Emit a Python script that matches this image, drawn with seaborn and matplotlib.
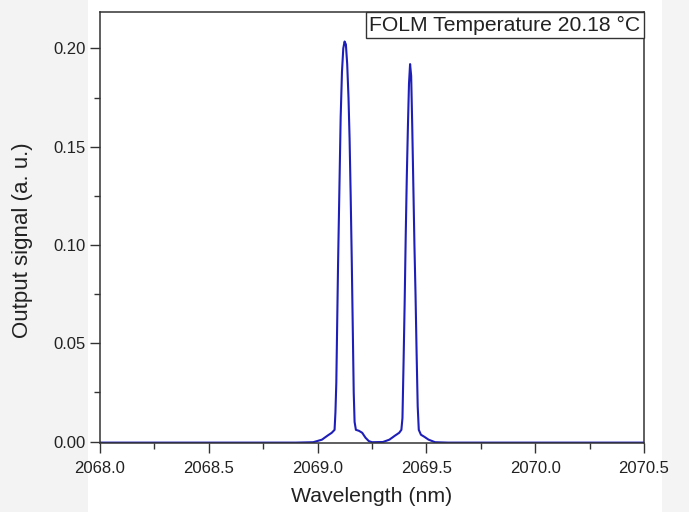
import matplotlib
matplotlib.use("Agg")
import matplotlib.pyplot as plt
import seaborn as sns
import pandas as pd
from matplotlib.patches import Rectangle
from matplotlib.ticker import MultipleLocator, FormatStrFormatter

# ========= DATA =========
wavelength = [2068.0, 2068.5, 2068.9, 2068.98, 2069.02, 2069.045, 2069.065, 2069.078,
              2069.082, 2069.086, 2069.090, 2069.094, 2069.098, 2069.102, 2069.106,
              2069.112, 2069.118, 2069.124, 2069.130, 2069.136, 2069.142, 2069.147,
              2069.152, 2069.157, 2069.162, 2069.166, 2069.170, 2069.176, 2069.19,
              2069.205, 2069.22, 2069.235, 2069.25, 2069.30, 2069.33, 2069.355,
              2069.375, 2069.385, 2069.39, 2069.395, 2069.40, 2069.405, 2069.41,
              2069.415, 2069.42, 2069.425, 2069.43, 2069.435, 2069.44, 2069.445,
              2069.45, 2069.455, 2069.46, 2069.465, 2069.475, 2069.49, 2069.51,
              2069.54, 2069.6, 2070.5]
signal = [-0.0005, -0.0005, -0.0005, -0.0003, 0.001, 0.003, 0.0045, 0.006,
          0.015, 0.03, 0.06, 0.09, 0.115, 0.14, 0.165,
          0.188, 0.2, 0.2035, 0.202, 0.192, 0.175, 0.154,
          0.125, 0.092, 0.055, 0.025, 0.01, 0.006, 0.0055,
          0.0045, 0.002, 0.0003, -0.0003, -0.0002, 0.001, 0.003,
          0.0045, 0.006, 0.012, 0.04, 0.07, 0.105, 0.135,
          0.16, 0.182, 0.192, 0.186, 0.16, 0.13, 0.10,
          0.075, 0.045, 0.018, 0.006, 0.0035, 0.0025, 0.001,
          -0.0003, -0.0005, -0.0005]
legend_text = "FOLM Temperature 20.18 \u00b0C"

df = pd.DataFrame({"wavelength": wavelength, "signal": signal})

# ========= FIGURE =========
sns.set_style("ticks")
plt.rcParams["font.family"] = ["Liberation Sans", "DejaVu Sans"]

fig = plt.figure(figsize=(6.89, 5.12), dpi=100)
fig.patch.set_facecolor("white")
# light gray side strips of the original screenshot (behind everything)
fig.patches.append(Rectangle((0, 0), 88 / 689, 1, transform=fig.transFigure,
                             facecolor="#f3f3f3", edgecolor="none", zorder=-10))
fig.patches.append(Rectangle((662 / 689, 0), 27 / 689, 1, transform=fig.transFigure,
                             facecolor="#f4f4f4", edgecolor="none", zorder=-10))

ax = fig.add_axes([100 / 689, (512 - 443) / 512, 544 / 689, 431 / 512])
ax.set_zorder(1)
sns.lineplot(data=df, x="wavelength", y="signal", ax=ax, color="#1e1eb8",
             linewidth=1.5, estimator=None)

ax.set_xlim(2068.0, 2070.5)
ax.set_ylim(-0.0007, 0.2185)
ax.xaxis.set_major_locator(MultipleLocator(0.5))
ax.xaxis.set_minor_locator(MultipleLocator(0.25))
ax.yaxis.set_major_locator(MultipleLocator(0.05))
ax.yaxis.set_minor_locator(MultipleLocator(0.025))
ax.xaxis.set_major_formatter(FormatStrFormatter("%.1f"))
ax.yaxis.set_major_formatter(FormatStrFormatter("%.2f"))

ax.tick_params(which="major", length=7, width=1, color="#333333", labelsize=12,
               labelcolor="#222222", direction="out")
ax.tick_params(axis="x", which="major", pad=6)
ax.tick_params(which="minor", length=4, width=1, color="#333333", direction="out")
for s in ax.spines.values():
    s.set_visible(True)
    s.set_color("#333333")
    s.set_linewidth(1.1)

ax.set_xlabel("Wavelength (nm)", fontsize=15.3, color="#222222", labelpad=8)
ax.set_ylabel("Output signal (a. u.)", fontsize=16, color="#222222")
ax.yaxis.set_label_coords(-0.123, 0.47)

ax.annotate(legend_text, xy=(1, 1), xycoords="axes fraction",
            xytext=(-2.6, -2.6), textcoords="offset points", ha="right", va="top",
            fontsize=15.2, color="#222222",
            bbox=dict(boxstyle="square,pad=0.15", facecolor="white",
                      edgecolor="#333333", linewidth=1))

fig.savefig("out.png", dpi=100)
